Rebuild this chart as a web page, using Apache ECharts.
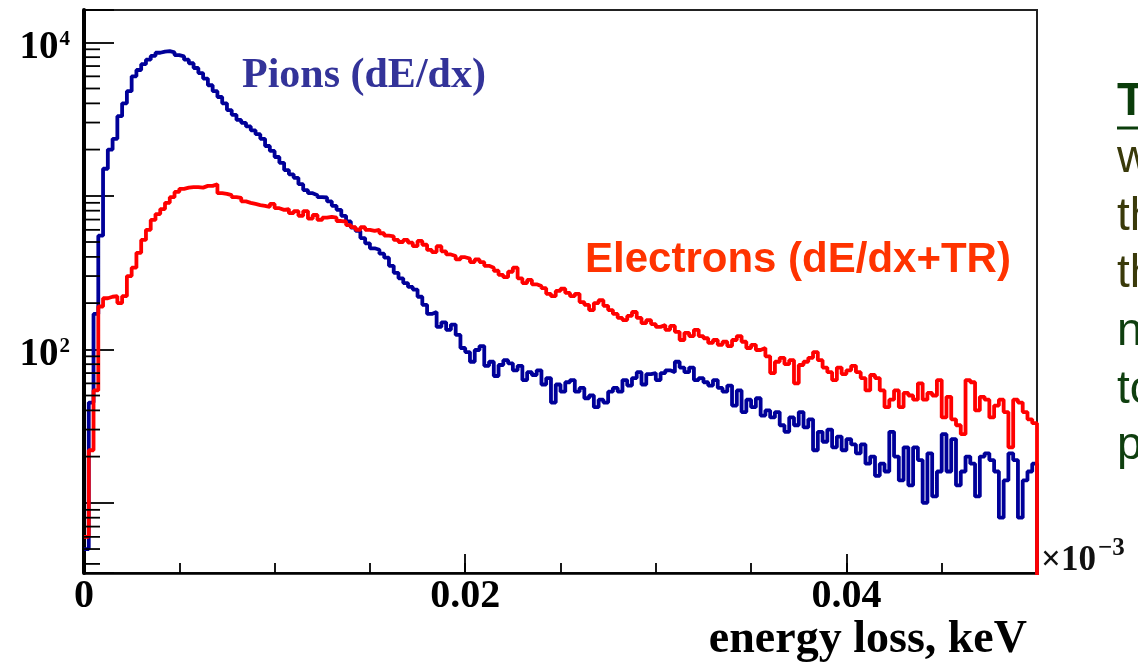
<!DOCTYPE html>
<html><head><meta charset="utf-8">
<script src="https://cdn.jsdelivr.net/npm/echarts@6/dist/echarts.min.js"></script>
<style>html,body{margin:0;padding:0;background:#fff;}#c{width:1138px;height:670px;}</style>
</head><body><div id="c"></div>
<script>
// ---- data ----
const BIN_WIDTH = 0.00025;           // keV (x 10^-3), 200 bins over 0..0.05
const X_MIN = 0, X_MAX = 0.05;
const Y_MIN = 3.49, Y_MAX = 16230;
const HIST_FLOOR = 1;                // closing edge of the histogram (below axis)

const pions = [
5,45,170,550,1500,2000,2350,3300,4000,4800,
6000,6600,7200,7700,8150,8550,8700,8750,8600,8250,
8100,7700,7300,6800,6300,5800,5250,4800,4400,4000,
3620,3370,3120,2990,2830,2670,2520,2350,2110,1960,
1790,1640,1470,1380,1310,1190,1090,1040,1010,980,
975,920,860,810,740,680,620,590,530,490,
455,445,420,395,350,315,290,270,255,245,
220,195,170,175,140,150,134,145,124,102,
96,83,99,105,78,83,67,79,85,81,
73,78,63,71,68,73,59,65,45,59,
53,61,63,53,56,48,50,42,47,45,
53,56,53,63,58,65,71,59,69,70,
63,70,73,71,83,76,71,76,63,65,
61,58,63,56,53,58,43,54,39,47,
42,48,37,40,36,39,32,29,36,32,
39,31,35,22,29,25,30,23,27,22,
26,24,21,24,18,20,15,18,16,29,
20,14,23,13,23,19,10,21,11,16,
28,16,26,13,16,20,18,11,20,21,
19,16,8,14,21,19,8,14,16,18
];

const electrons = [
6,22,54,190,215,220,222,200,222,300,
340,425,516,600,696,760,820,900,980,1060,
1110,1130,1140,1140,1130,1160,1160,1190,1040,1030,
1010,980,970,920,900,885,870,860,845,885,
830,810,820,770,795,740,795,710,750,696,
720,730,720,685,680,645,625,600,625,600,
590,600,570,550,545,516,500,516,495,470,
508,480,444,430,470,435,415,405,385,398,
390,370,385,370,350,340,325,305,295,320,
340,290,270,283,265,258,250,230,222,240,
248,233,222,230,203,195,180,200,209,192,
180,170,160,155,165,175,160,148,155,146,
140,144,134,142,130,115,128,122,134,122,
118,110,115,107,112,105,115,122,112,102,
107,99,102,90,70,83,88,80,85,60,
79,83,88,96,85,76,71,63,76,69,
73,78,71,65,54,68,65,54,42,47,
54,42,52,50,47,60,47,52,50,63,
36,49,35,32,28,63,61,40,49,47,
36,43,47,39,23,47,45,39,35,33
];

const xTickValues = [0, 0.02, 0.04];
const xTickLabels = ['0', '0.02', '0.04'];
const yLabelDecades = [2, 4];
const yMinorTickValues = [4,5,6,7,8,9, 20,30,40,50,60,70,80,90,
  200,300,400,500,600,700,800,900, 2000,3000,4000,5000,6000,7000,8000,9000];

const pionsLabel = 'Pions (dE/dx)';
const electronsLabel = 'Electrons (dE/dx+TR)';
const xAxisTitle = 'energy loss, keV';
const xExpBase = '\u00d710', xExp = '\u22123';
const sideLines = ['w', 'th', 'th', 'n', 'to', 'p'];
const sideHeading = 'T';

// ---- build ----
function toSteps(counts) {
  const pts = counts.map((c, i) => [+(i * BIN_WIDTH).toFixed(6), c]);
  pts.push([X_MAX, HIST_FLOOR]);
  return pts;
}

const SERIF = '"Liberation Serif", "Times New Roman", serif';
const SANS = '"Liberation Sans", Arial, sans-serif';

const chart = echarts.init(document.getElementById('c'), null, {renderer: 'canvas'});

const sideColors = ['#3a3a0a', '#3a3a0a', '#3a3a0a', '#0f3f0f', '#0f3f0f', '#0f3f0f'];
const sideY = [159, 217, 274, 332, 390, 446];
const graphics = [
  {type: 'text', style: {text: pionsLabel, x: 242, y: 76, verticalAlign: 'middle',
    font: 'bold 42px ' + SERIF, fill: '#333399'}},
  {type: 'text', style: {text: electronsLabel, x: 585, y: 260, verticalAlign: 'middle',
    font: 'bold 42px ' + SANS, fill: '#ff3300'}},
  {type: 'text', style: {text: xAxisTitle, x: 1027, y: 640, align: 'right', verticalAlign: 'middle',
    font: 'bold 46px ' + SERIF, fill: '#000'}},
  {type: 'text', style: {text: xExpBase, x: 1041, y: 561, verticalAlign: 'middle',
    font: 'bold 35px ' + SERIF, fill: '#111'}},
  {type: 'text', style: {text: xExp, x: 1098, y: 549, verticalAlign: 'middle',
    font: 'bold 25px ' + SERIF, fill: '#111'}},
  {type: 'text', style: {text: sideHeading, x: 1117, y: 102, verticalAlign: 'middle',
    font: 'bold 46px ' + SANS, fill: '#0b3d0b'}},
  {type: 'line', shape: {x1: 1117, y1: 128, x2: 1138, y2: 128}, style: {stroke: '#0b3d0b', lineWidth: 3}}
];
sideLines.forEach((t, i) => graphics.push({type: 'text', style: {text: t, x: 1117, y: sideY[i],
  verticalAlign: 'middle', font: '46px ' + SANS, fill: sideColors[i]}}));

const option = {
  animation: false,
  backgroundColor: '#fff',
  grid: {left: 84, right: 101, top: 10, bottom: 97, show: true, borderColor: '#222', borderWidth: 2,
    backgroundColor: 'transparent'},
  xAxis: [
    {type: 'value', min: X_MIN, max: X_MAX, interval: 0.02, position: 'bottom',
      axisLine: {show: true, onZero: false, lineStyle: {color: '#000', width: 2.5}},
      axisTick: {show: true, inside: true, length: 19, lineStyle: {color: '#000', width: 1.8}},
      splitLine: {show: false},
      axisLabel: {show: true, margin: 4, color: '#000', fontSize: 40, fontWeight: 'bold', fontFamily: SERIF,
        showMinLabel: true, showMaxLabel: false,
        formatter: v => { const k = xTickValues.findIndex(t => Math.abs(t - v) < 1e-9); return k >= 0 ? xTickLabels[k] : ''; }}},
    {type: 'value', min: X_MIN, max: X_MAX, interval: 0.005, position: 'bottom', offset: 0,
      axisLine: {show: false},
      axisTick: {show: true, inside: true, length: 10, lineStyle: {color: '#000', width: 1.8}},
      splitLine: {show: false}, axisLabel: {show: false}}
  ],
  yAxis: [
    {type: 'log', logBase: 10, min: Y_MIN, max: Y_MAX, position: 'left',
      axisLine: {show: true, onZero: false, lineStyle: {color: '#000', width: 4}},
      axisTick: {show: true, inside: true, length: 30, lineStyle: {color: '#000', width: 1.8}},
      splitLine: {show: false},
      axisLabel: {show: true, margin: 14, color: '#000', padding: [10, 0, 0, 0],
        formatter: v => { const l = Math.log10(v); const d = Math.round(l);
          return (Math.abs(l - d) < 1e-6 && yLabelDecades.includes(d)) ? '{b|10}{s|' + d + '}' : ''; },
        rich: {
          b: {fontSize: 39, fontWeight: 'bold', fontFamily: SERIF, color: '#000', lineHeight: 40, verticalAlign: 'bottom'},
          s: {fontSize: 21, fontWeight: 'bold', fontFamily: SERIF, color: '#000', lineHeight: 40, verticalAlign: 'top', padding: [2, 0, 0, 1]}
        }}}
  ],
  series: [
    {name: 'Pions (dE/dx)', type: 'line', step: 'end', data: toSteps(pions), xAxisIndex: 0, yAxisIndex: 0,
      showSymbol: false, symbol: 'none', lineStyle: {color: '#000099', width: 3.8}, itemStyle: {color: '#000099'},
      z: 3, silent: true},
    {name: 'Electrons (dE/dx+TR)', type: 'line', step: 'end', data: toSteps(electrons), xAxisIndex: 0, yAxisIndex: 0,
      showSymbol: false, symbol: 'none', lineStyle: {color: '#ff0000', width: 3.8}, itemStyle: {color: '#ff0000'},
      z: 4, silent: true},
    {name: 'yMinorTicks', type: 'custom', xAxisIndex: 0, yAxisIndex: 0, silent: true, z: 6,
      data: yMinorTickValues.map(v => [X_MIN, v]), encode: {x: 0, y: 1},
      renderItem: (params, api) => {
        const p = api.coord([api.value(0), api.value(1)]);
        return {type: 'line', shape: {x1: p[0], y1: p[1], x2: p[0] + 16, y2: p[1]},
          style: {stroke: '#000', lineWidth: 1.8}};
      }}
  ],
  graphic: graphics
};
chart.setOption(option);
</script></body></html>
